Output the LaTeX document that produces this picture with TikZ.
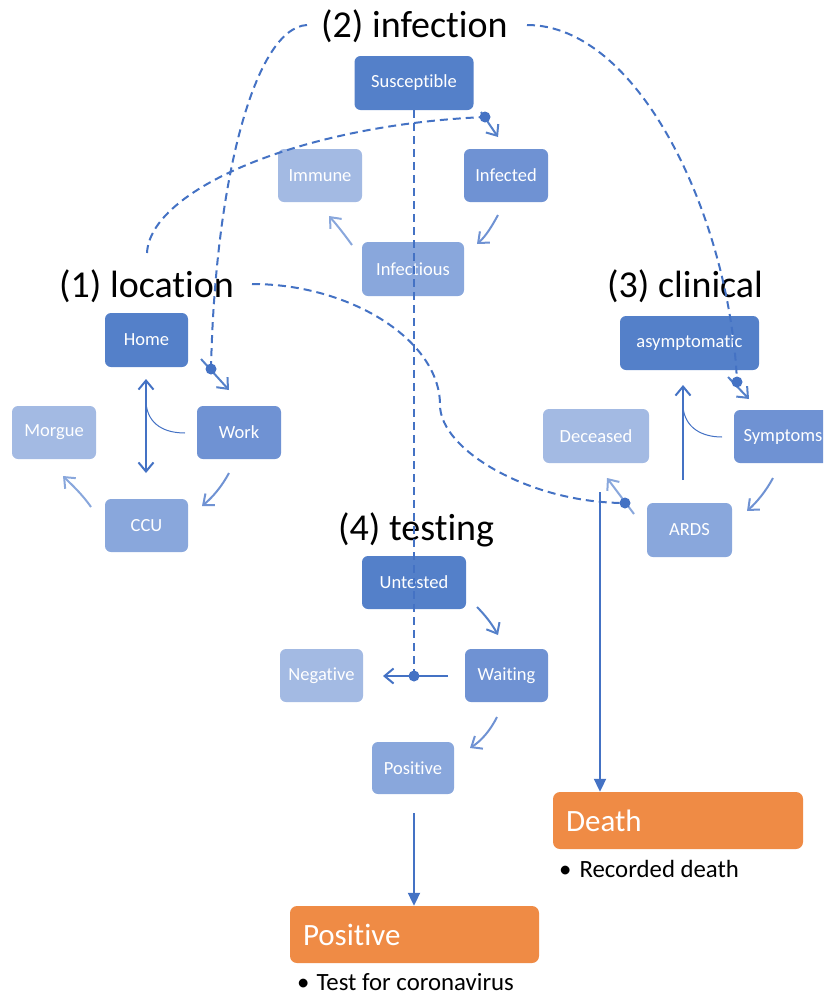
\documentclass[tikz,border=0pt]{standalone}
\usepackage{fontspec}
\setmainfont{Carlito}[Ligatures={NoCommon}]
\usetikzlibrary{arrows.meta}
\definecolor{cA}{RGB}{84,128,201}
\definecolor{cB}{RGB}{111,146,211}
\definecolor{cC}{RGB}{137,167,220}
\definecolor{cD}{RGB}{163,186,227}
\definecolor{ln}{RGB}{68,114,196}
\definecolor{org}{RGB}{239,139,69}
\begin{document}
\begin{tikzpicture}[x=1pt,y=-1pt,
  box/.style={rounded corners=6pt, inner sep=0pt, fill=#1, text=white,
    font=\fontsize{18.5}{20}\selectfont, minimum height=54pt},
  obox/.style={rounded corners=7pt, fill=org, text=white, inner xsep=13pt, inner ysep=0pt,
    font=\fontsize{31}{34}\selectfont, minimum height=57pt, align=left},
  ttl/.style={anchor=base west, inner sep=0pt, font=\fontsize{38}{40}\selectfont},
  bul/.style={anchor=base west, inner sep=0pt, font=\fontsize{24.8}{27}\selectfont},
  tr/.style={draw=#1, line width=2pt, -{Straight Barb[length=9pt,width=15pt]}},
  thin/.style={draw=ln, line width=1pt},
  dsh/.style={draw=ln, line width=2pt, dash pattern=on 8pt off 5pt},
  dotn/.style={circle, fill=ln, inner sep=0pt, minimum size=11pt},
  fin/.style={draw=ln, line width=2pt, -{Triangle[length=13pt,width=12pt]}}
]
\useasboundingbox (0,0) rectangle (823,996);
\clip (0,0) rectangle (823,996);

% titles
\node[ttl] (t2) at (321,37) {(2) infection};
\node[ttl] (t1) at (59,297) {(1) location};
\node[ttl] (t3) at (607,297) {(3) clinical};
\node[ttl] (t4) at (338,540) {(4) testing};

% (2) infection
\node[box=cA, minimum width=119pt] (sus) at (414,83) {Susceptible};
\node[box=cD, minimum width=84pt, minimum height=53pt] (imm) at (320,175.5) {Immune};
\node[box=cB, minimum width=84pt, minimum height=53pt] (inf) at (506,175.5) {Infected};
\node[box=cC, minimum width=102pt] (infs) at (413,269) {Infectious};

% (1) location
\node[box=cA, minimum width=83pt] (home) at (146.5,340) {Home};
\node[box=cB, minimum width=84pt, minimum height=53pt] (work) at (239,432.5) {Work};
\node[box=cD, minimum width=84pt, minimum height=53pt] (morg) at (54,432.5) {Morgue};
\node[box=cC, minimum width=83pt, minimum height=53pt] (ccu) at (146.5,525.5) {CCU};

% (3) clinical
\node[box=cA, minimum width=139pt] (asym) at (689.5,343) {asymptomatic};
\node[box=cB, minimum width=98pt, minimum height=53pt] (symp) at (783,436.5) {Symptoms};
\node[box=cD, minimum width=106pt] (dec) at (596,436) {Deceased};
\node[box=cC, minimum width=85pt] (ards) at (689.5,530) {ARDS};

% (4) testing
\node[box=cA, minimum width=104pt, minimum height=53pt] (unt) at (414,582.5) {Untested};
\node[box=cB, minimum width=83pt, minimum height=53pt] (wait) at (506.5,675.5) {Waiting};
\node[box=cD, minimum width=83pt, minimum height=53pt] (neg) at (321.5,675.5) {Negative};
\node[box=cC, minimum width=82pt, minimum height=52pt] (pos) at (413,768) {Positive};

% outcomes
\node[obox, minimum width=250pt, text width=224pt] (death) at (678,820.5) {Death};
\node[obox, minimum width=249pt, text width=223pt] (opos) at (414.5,934.5) {Positive};
\node[bul] (bd) at (559,877) {\textbullet\hspace{8pt}Recorded death};
\node[bul] (bp) at (297,990) {\textbullet\hspace{7pt}Test for coronavirus};

% coordinates
\coordinate (a1s) at (481,112); \coordinate (a1e) at (498,137);
\coordinate (a2s) at (498,215); \coordinate (a2e) at (477,244);
\coordinate (a3s) at (352,245); \coordinate (a3e) at (329,216);
\coordinate (b1s) at (201,359); \coordinate (b1e) at (229,390);
\coordinate (b2s) at (229,473); \coordinate (b2e) at (202,506);
\coordinate (b3s) at (91,507);  \coordinate (b3e) at (63,476);
\coordinate (b4s) at (146,379); \coordinate (b4e) at (146,473);
\coordinate (b5s) at (146,403); \coordinate (b5e) at (185,433);
\coordinate (c1s) at (728,377); \coordinate (c1e) at (749,399);
\coordinate (c2s) at (773,478); \coordinate (c2e) at (747,511);
\coordinate (c3s) at (634,514); \coordinate (c3e) at (607,478);
\coordinate (c4s) at (683,480); \coordinate (c4e) at (683,385);
\coordinate (c5s) at (683,407); \coordinate (c5e) at (722,437);
\coordinate (d1s) at (477,607); \coordinate (d1e) at (498,635);
\coordinate (d2s) at (448,676); \coordinate (d2e) at (383,676);
\coordinate (d3s) at (497,717); \coordinate (d3e) at (470,748);
\coordinate (e1s) at (600,492); \coordinate (e2s) at (414,813);

% transition arrows
\draw[tr=cA] (a1s) -- (a1e);
\draw[tr=cB] (a2s) .. controls (492,226) and (486,236) .. (a2e);
\draw[tr=cC] (a3s) .. controls (344,234) and (337,225) .. (a3e);
\draw[tr=cA] (b1s) -- (b1e);
\draw[tr=cB] (b2s) .. controls (222,486) and (213,497) .. (b2e);
\draw[tr=cC] (b3s) .. controls (82,494) and (72,485) .. (b3e);
\draw[draw=ln, line width=2pt, {Straight Barb[length=9pt,width=15pt]}-{Straight Barb[length=9pt,width=15pt]}] (b4s) -- (b4e);
\draw[thin] (b5s) .. controls (148,425) and (165,433) .. (b5e);
\draw[tr=cA] (c1s) -- (c1e);
\draw[tr=cB] (c2s) .. controls (766,491) and (757,502) .. (c2e);
\draw[tr=cC] (c3s) -- (c3e);
\draw[tr=ln] (c4s) -- (c4e);
\draw[thin] (c5s) .. controls (685,428) and (702,437) .. (c5e);
\draw[tr=cA] (d1s) .. controls (485,615) and (492,624) .. (d1e);
\draw[tr=ln] (d2s) -- (d2e);
\draw[tr=cB] (d3s) .. controls (490,731) and (481,741) .. (d3e);
\draw[fin] (e1s) -- (death.north -| e1s);
\draw[fin] (e2s) -- (opos.north -| e2s);

% dots
\node[dotn] (dA) at (485,117) {};
\node[dotn] (dB) at (211,369) {};
\node[dotn] (dC) at (737,382) {};
\node[dotn] (dD) at (625,503) {};
\node[dotn] (dE) at (414,676) {};

% dashed influence lines
\coordinate (sA) at (147,253);
\coordinate (sB) at (307,25);
\coordinate (sC) at (527,25);
\coordinate (sD) at (252,284);
\draw[dsh] (sA) .. controls (150,190) and (300,125) .. (dA.center);
\draw[dsh] (sB) .. controls (255,28) and (215,180) .. (dB.center);
\draw[dsh] (sC) .. controls (640,25) and (730,220) .. (dC.center);
\draw[dsh] (sD) .. controls (350,284) and (440,340) .. (440,405) .. controls (440,450) and (530,503) .. (dD.center);
\draw[dsh] (sus.south) -- (dE.center);
\end{tikzpicture}
\end{document}
